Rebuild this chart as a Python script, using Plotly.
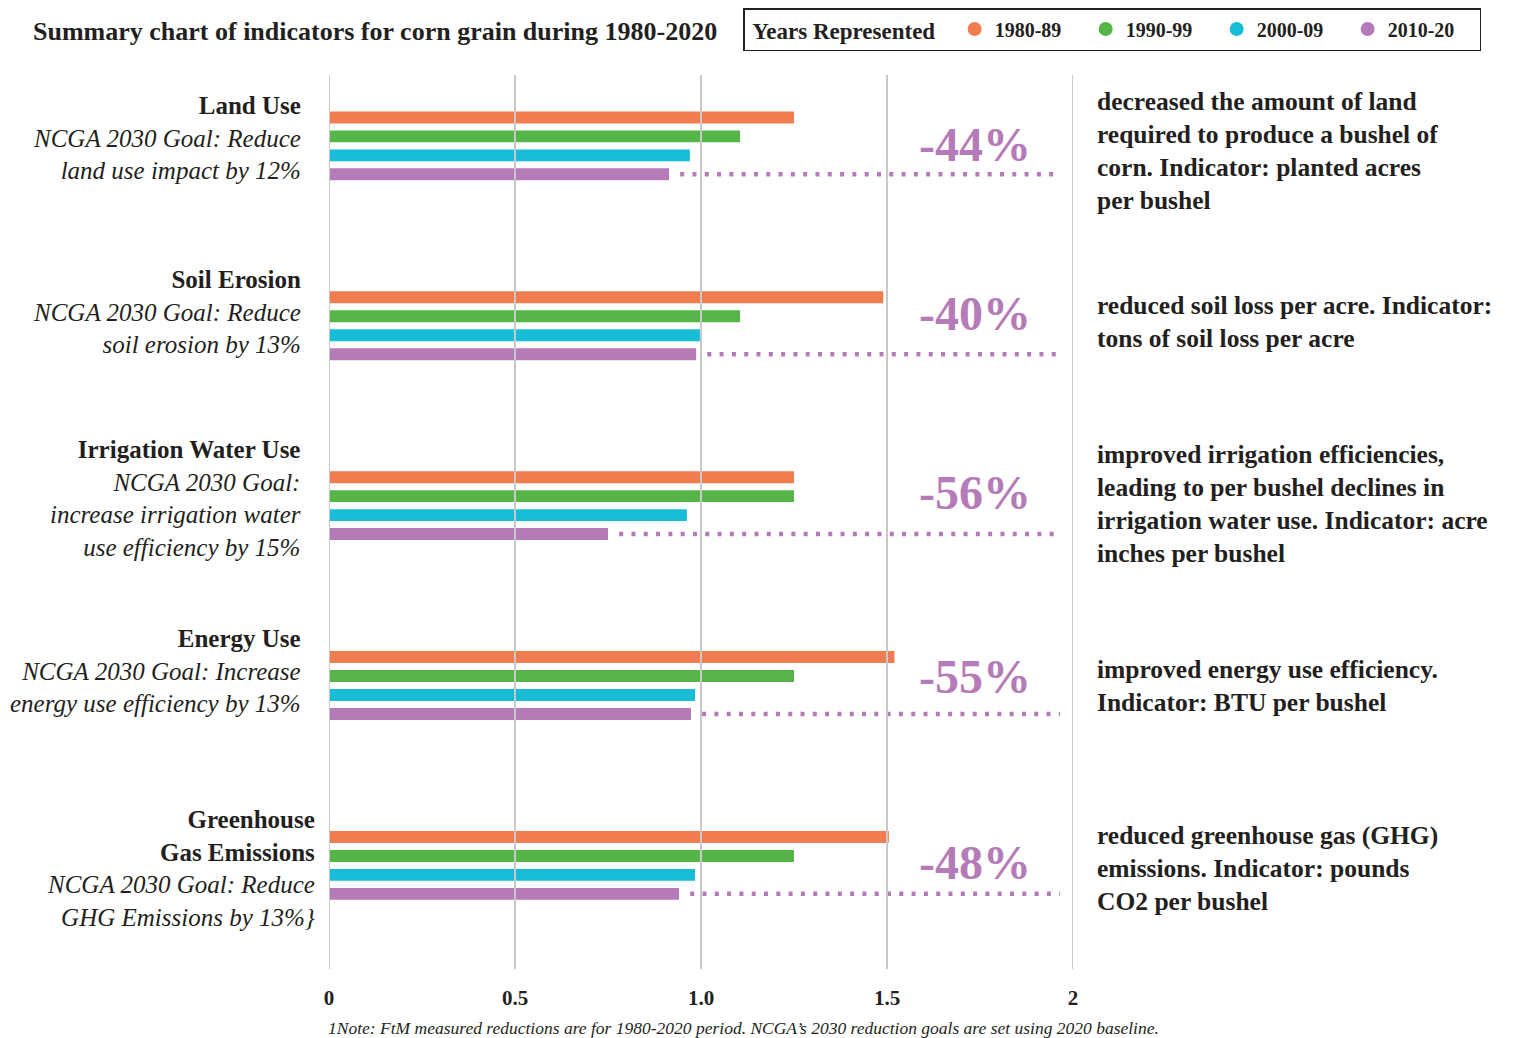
import plotly.graph_objects as go

# ---------------- data ----------------
CATEGORIES = ["Land Use", "Soil Erosion", "Irrigation Water Use", "Energy Use", "Greenhouse Gas Emissions"]
SERIES_NAMES = ["1980-89", "1990-99", "2000-09", "2010-20"]
VALS_1980 = [1.25, 1.49, 1.25, 1.52, 1.505]
VALS_1990 = [1.105, 1.105, 1.25, 1.25, 1.25]
VALS_2000 = [0.97, 0.997, 0.962, 0.984, 0.984]
VALS_2010 = [0.914, 0.987, 0.75, 0.973, 0.941]
PCT_LABELS = ["-44%", "-40%", "-56%", "-55%", "-48%"]
LEFT_TITLES = ["Land Use", "Soil Erosion", "Irrigation Water Use", "Energy Use", "Greenhouse<br>Gas Emissions"]
LEFT_GOALS = [
    "NCGA 2030 Goal: Reduce<br>land use impact by 12%",
    "NCGA 2030 Goal: Reduce<br>soil erosion by 13%",
    "NCGA 2030 Goal:<br>increase irrigation water<br>use efficiency by 15%",
    "NCGA 2030 Goal: Increase<br>energy use efficiency by 13%",
    "NCGA 2030 Goal: Reduce<br>GHG Emissions by 13%}",
]
RIGHT_TEXTS = [
    "decreased the amount of land<br>required to produce a bushel of<br>corn. Indicator: planted acres<br>per bushel",
    "reduced soil loss per acre. Indicator:<br>tons of soil loss per acre",
    "improved irrigation efficiencies,<br>leading to per bushel declines in<br>irrigation water use. Indicator: acre<br>inches per bushel",
    "improved energy use efficiency.<br>Indicator: BTU per bushel",
    "reduced greenhouse gas (GHG)<br>emissions. Indicator: pounds<br>CO2 per bushel",
]
TICK_VALS = [0, 0.5, 1.0, 1.5, 2]
TICK_TEXT = ["0", "0.5", "1.0", "1.5", "2"]
TITLE = "Summary chart of indicators for corn grain during 1980-2020"
LEGEND_TITLE = "Years Represented"
FOOTNOTE = "1Note: FtM measured reductions are for 1980-2020 period. NCGA\u2019s 2030 reduction goals are set using 2020 baseline."

# ---------------- style / layout ----------------
COLORS = ["#F07C50", "#55B548", "#17BCD6", "#B57BB8"]
PURPLE = "#B57BB8"
TEXT = "#231F20"
SERIF = "Liberation Serif, Times New Roman, serif"
BARGAP = 0.578
BARGROUPGAP = 0.37
GRID = "#C8C8C8"
LEFT_YSHIFT = [8, 14, 7, 15, -3]
LEFT_XSHIFT = [-26, -26, -26, -26, -12]
RIGHT_YSHIFT = [-5, 4, 2, 0, -3]
PCT_YSHIFT = [1, 12, 13, 9, 3]
Y_RANGE = [4.576, -0.394]

OFF = 8  # page body margin
W, H = 1517 - OFF, 1038 - OFF
ML, MT = 329 - OFF, 75 - OFF
MR = W - (1073 - OFF)
MB = H - (969 - OFF)
PW, PH = W - ML - MR, H - MT - MB

fig = go.Figure()
series = [VALS_1980, VALS_1990, VALS_2000, VALS_2010]
for name, vals, col in zip(SERIES_NAMES, series, COLORS):
    fig.add_trace(go.Bar(
        y=CATEGORIES, x=vals, orientation="h", name=name,
        marker=dict(color=col, line=dict(width=0)), showlegend=False,
        hoverinfo="x+name",
    ))

# legend-only circle markers
for name, col in zip(SERIES_NAMES, COLORS):
    fig.add_trace(go.Scatter(
        x=[None], y=[None], mode="markers", name=f"<b>{name}</b>",
        marker=dict(color=col, size=14, symbol="circle"),
        yaxis="y2", showlegend=True,
    ))

# dotted lines after purple bars, on a numeric overlay axis aligned with categories
group_w = 1 - BARGAP
purple_offset = group_w * (3.5 / 4 - 0.5)
for i, v in enumerate(VALS_2010):
    yy = i + purple_offset
    fig.add_trace(go.Scatter(
        x=[v + 0.03, 1.965], y=[yy, yy], mode="lines", yaxis="y2",
        line=dict(color=PURPLE, width=4.5, dash="4px,8.3px"),
        showlegend=False, hoverinfo="skip",
    ))

annotations = []
for i, cat in enumerate(CATEGORIES):
    annotations.append(dict(
        x=0, xref="paper", xanchor="right", xshift=LEFT_XSHIFT[i],
        y=cat, yref="y", yanchor="middle", yshift=LEFT_YSHIFT[i],
        text=f"<b>{LEFT_TITLES[i]}</b><br><i>{LEFT_GOALS[i]}</i>",
        align="right", showarrow=False,
        font=dict(family=SERIF, size=25, color=TEXT),
    ))
    annotations.append(dict(
        x=1, xref="paper", xanchor="left", xshift=22,
        y=cat, yref="y", yanchor="middle", yshift=RIGHT_YSHIFT[i],
        text=f"<b>{RIGHT_TEXTS[i]}</b>",
        align="left", showarrow=False,
        font=dict(family=SERIF, size=25.5, color=TEXT),
    ))
    annotations.append(dict(
        x=1.736, xref="x", xanchor="center",
        y=cat, yref="y", yanchor="middle", yshift=PCT_YSHIFT[i],
        text=f"<b>{PCT_LABELS[i]}</b>",
        showarrow=False,
        font=dict(family=SERIF, size=48, color=PURPLE),
    ))

annotations.append(dict(
    x=(326 - OFF - ML) / PW, xref="paper", xanchor="left",
    y=(H - MB - (1028 - OFF)) / PH, yref="paper", yanchor="middle",
    text=f"<i>{FOOTNOTE}</i>", showarrow=False,
    font=dict(family=SERIF, size=17.5, color=TEXT),
))

shapes = [dict(type="line", xref="x", yref="paper", x0=t, x1=t, y0=0, y1=1,
               line=dict(color=GRID, width=2), layer="above") for t in TICK_VALS]

fig.update_layout(
    width=W, height=H,
    margin=dict(l=ML, r=MR, t=MT, b=MB),
    paper_bgcolor="white", plot_bgcolor="white",
    barmode="group", bargap=BARGAP, bargroupgap=BARGROUPGAP,
    title=dict(text=f"<b>{TITLE}</b>", x=(33 - OFF) / W, xanchor="left",
               y=1 - (31 - OFF) / H, yanchor="middle",
               font=dict(family=SERIF, size=26, color=TEXT)),
    xaxis=dict(range=[0, 2], tickvals=TICK_VALS, ticktext=[f"<b>{t}</b>" for t in TICK_TEXT],
               showgrid=False, zeroline=False, showline=False,
               ticks="", ticklabelstandoff=14,
               tickfont=dict(family=SERIF, size=21, color=TEXT),
               fixedrange=True),
    yaxis=dict(range=Y_RANGE, autorange=False, showticklabels=False, showgrid=False,
               zeroline=False, showline=False, ticks="", fixedrange=True),
    yaxis2=dict(overlaying="y", range=Y_RANGE, visible=False, fixedrange=True),
    legend=dict(
        orientation="h", xref="container", yref="container",
        x=(743 - OFF) / W, xanchor="left", y=1, yanchor="top",
        bordercolor=TEXT, borderwidth=1.5, bgcolor="white",
        title=dict(text=f"\u00a0<b>{LEGEND_TITLE}</b>\u00a0\u00a0",
                   font=dict(family=SERIF, size=23, color=TEXT)),
        font=dict(family=SERIF, size=20, color=TEXT),
        entrywidth=86, entrywidthmode="pixels", itemwidth=30,
    ),
    annotations=annotations,
    shapes=shapes,
)

fig.write_html("out.html")
